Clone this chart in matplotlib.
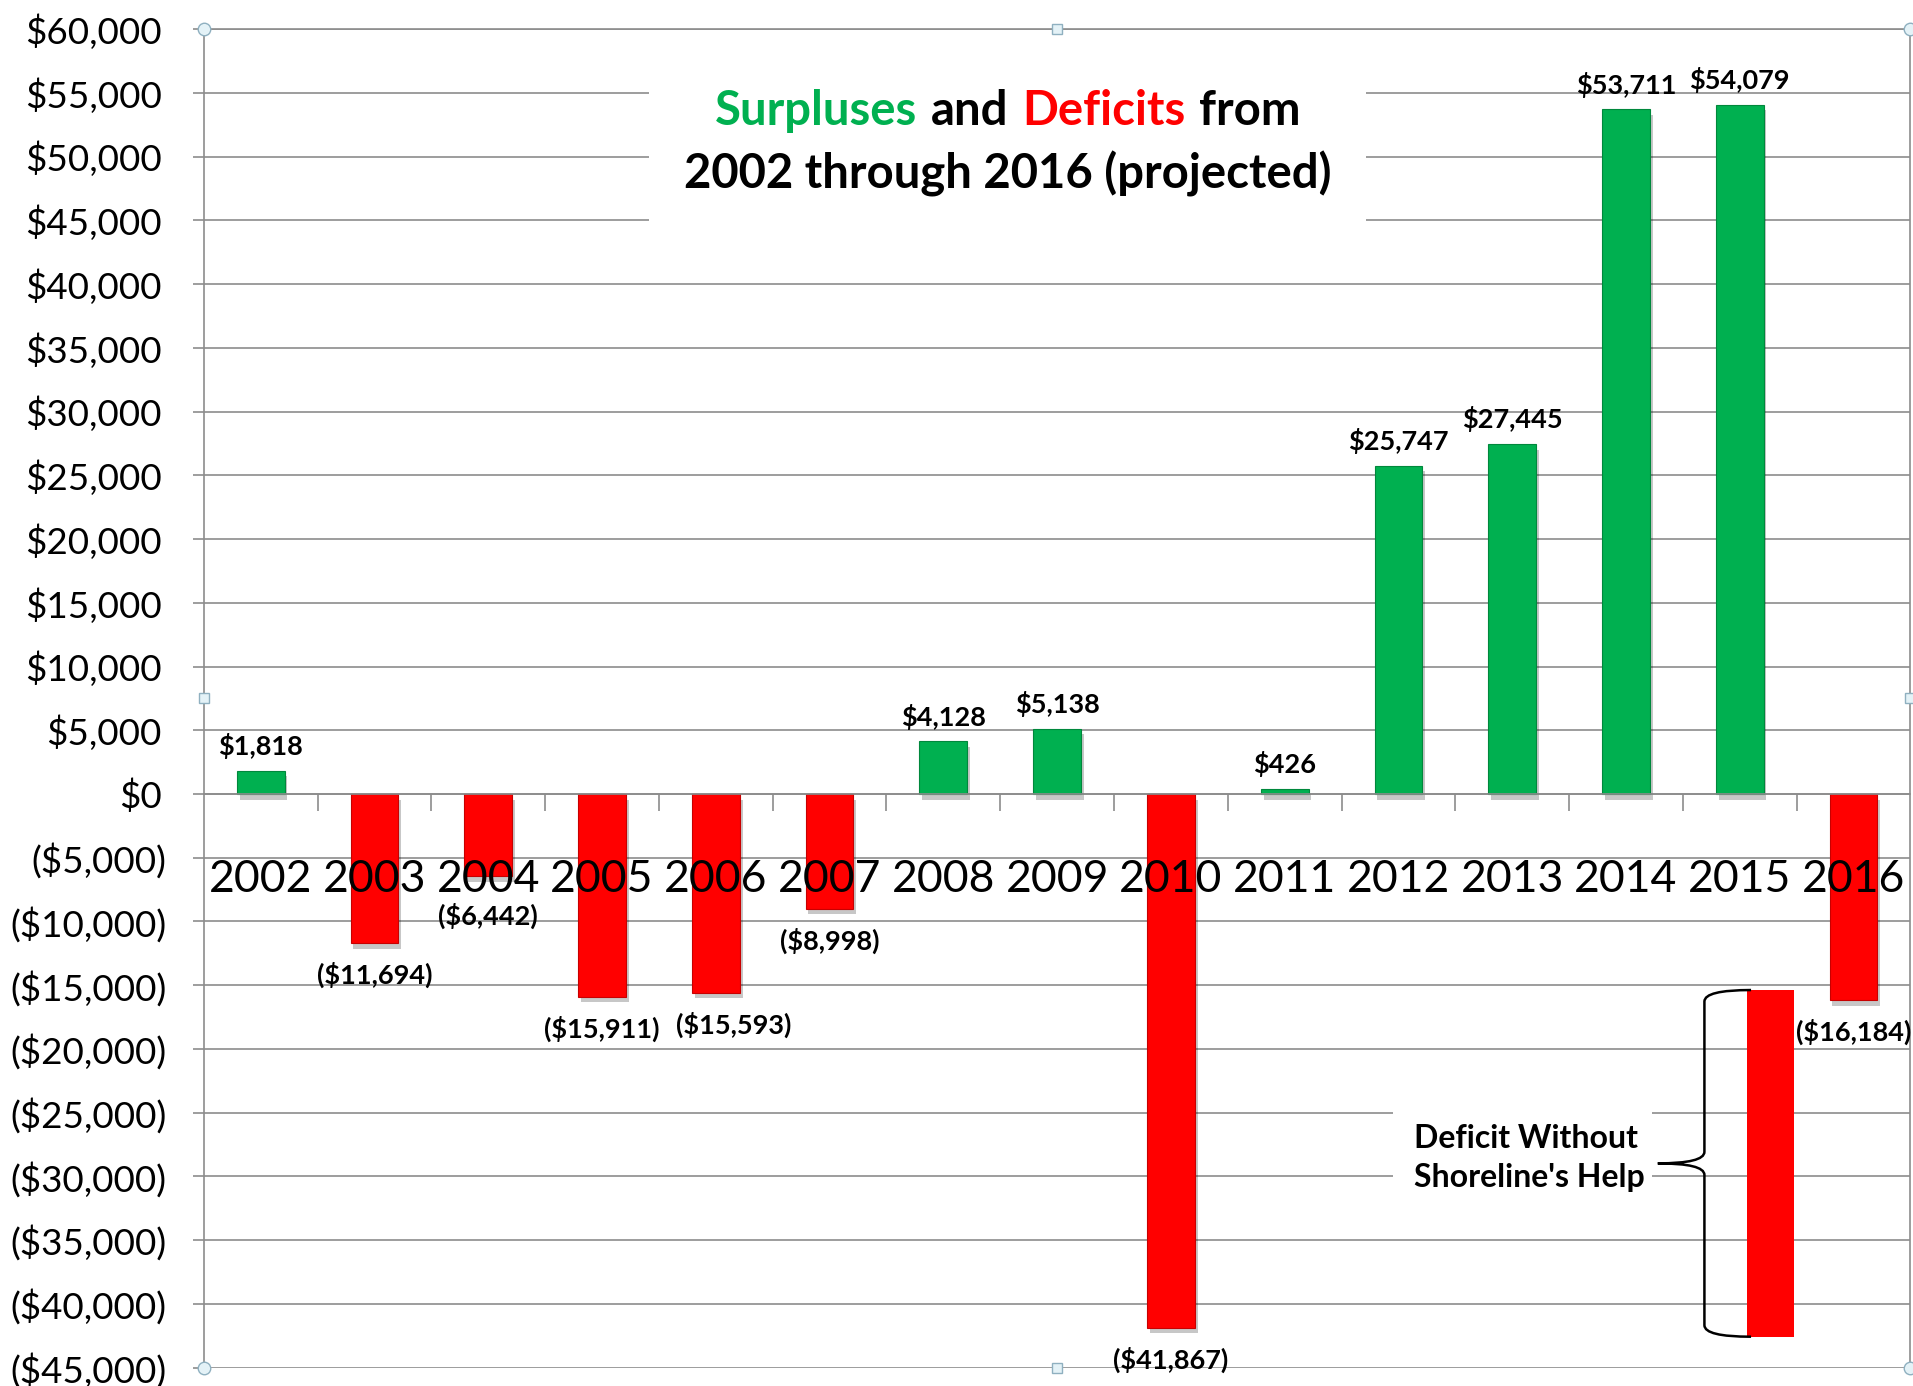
import matplotlib
matplotlib.use("Agg")
import numpy as np
import matplotlib.pyplot as plt
from matplotlib.patches import Rectangle, PathPatch
from matplotlib.path import Path
from matplotlib.offsetbox import TextArea, HPacker, VPacker, AnnotationBbox
import matplotlib.patheffects as pe
from matplotlib.ticker import FuncFormatter
from matplotlib.transforms import ScaledTranslation

plt.rcParams['font.family'] = ['Lato', 'DejaVu Sans']

# ---------------- data ----------------
years = ["2002", "2003", "2004", "2005", "2006", "2007", "2008", "2009",
         "2010", "2011", "2012", "2013", "2014", "2015", "2016"]
values = [1818, -11694, -6442, -15911, -15593, -8998, 4128, 5138,
          -41867, 426, 25747, 27445, 53711, 54079, -16184]
y_ticks = list(range(-45000, 60001, 5000))

title_line1 = [("Surpluses", "#00B050"), ("and", "black"),
               ("Deficits", "#FF0000"), ("from", "black")]
title_line2 = "2002 through 2016 (projected)"
note_text = "Deficit Without\nShoreline's Help"
# illustrative bar: deficit without Shoreline's help (top, bottom values)
note_bar_top = -15380
note_bar_bottom = -42580

GREEN = "#00B050"
RED = "#FF0000"
GRID = "#8C8C8C"


def money(v):
    if v < 0:
        return "(${:,})".format(-int(v))
    return "${:,}".format(int(v))


fig = plt.figure(figsize=(19.13, 13.86), dpi=100)
ax = fig.add_axes([0.1066, 0.0133, 0.8920, 0.9656])

x = np.arange(len(years))
colors = [GREEN if v >= 0 else RED for v in values]
edges = ["#00883C" if v >= 0 else "#C80000" for v in values]
bars = ax.bar(x, values, width=0.42, color=colors, edgecolor=edges,
              linewidth=0.8, zorder=2)
for b in bars:
    b.set_path_effects([pe.SimplePatchShadow(offset=(2, -4), shadow_rgbFace=(0, 0, 0), alpha=0.22),
                        pe.Normal()])

ax.set_xlim(-0.5, len(years) - 0.5)
ax.set_ylim(y_ticks[0], y_ticks[-1])

# data labels (Excel nudged some labels to avoid neighbours)
nudge_x = {"2006": 13}
nudge_y = {"2004": -6}
for i, (xi, v) in enumerate(zip(x, values)):
    dx = nudge_x.get(years[i], 0)
    dy = (8.5 if v >= 0 else -13.5) + nudge_y.get(years[i], 0)
    ax.annotate(money(v), (xi, v), xytext=(dx, dy),
                textcoords="offset points", ha="center",
                va="bottom" if v >= 0 else "top", fontsize=19.5,
                fontweight="bold", zorder=5, annotation_clip=False)

# axes styling
ax.set_axisbelow(True)
for s in ["left", "right", "top", "bottom"]:
    ax.spines[s].set_color(GRID)
    ax.spines[s].set_linewidth(1.2)
ax.spines["bottom"].set_position(("data", 0))

ax.set_yticks(y_ticks)
ax.yaxis.set_major_formatter(FuncFormatter(lambda v, p: money(v)))
ax.tick_params(axis="y", length=8, width=1.2, color=GRID, pad=19,
               labelsize=26.5, direction="out")
ax.yaxis.grid(True, color=GRID, linewidth=1.2)

ax.set_xticks(x)
ax.set_xticklabels(years)
ax.set_xticks(np.arange(0.5, len(years) - 1, 1.0), minor=True)
ax.tick_params(axis="x", which="major", length=0, pad=47, labelsize=32)
ax.tick_params(axis="x", which="minor", length=12, width=1.2, color=GRID,
               direction="out")
ax.xaxis.set_zorder(3)

# accounting alignment: positive labels leave room for the closing parenthesis
shift = ScaledTranslation(-3.5 / 72, 0, fig.dpi_scale_trans)
for tick, tv in zip(ax.yaxis.get_major_ticks(), y_ticks):
    if tv >= 0:
        tick.label1.set_transform(tick.label1.get_transform() + shift)

# title box
ax.add_patch(Rectangle((0.261, 0.840), 0.42, 0.137, transform=ax.transAxes,
                       facecolor="white", edgecolor="none", zorder=1))
tp = dict(fontsize=34, fontweight="bold")
row1 = HPacker(children=[TextArea(t, textprops=dict(color=c, **tp)) for t, c in title_line1],
               align="baseline", pad=0, sep=10)
row2 = TextArea(title_line2, textprops=dict(color="black", **tp))
title_box = VPacker(children=[row1, row2], align="center", pad=0, sep=13)
ab = AnnotationBbox(title_box, (0.471, 0.915), xycoords="axes fraction",
                    frameon=False, box_alignment=(0.5, 0.5), zorder=4)
ax.add_artist(ab)

# annotation: deficit without Shoreline's help
ax.add_patch(Rectangle((9.95, -33000), 12.23 - 9.95, 11000, facecolor="white",
                       edgecolor="none", zorder=1))
ax.text(10.14, -28550, note_text, ha="left", va="center", fontsize=23,
        fontweight="bold", linespacing=1.4, zorder=5)
ax.add_patch(Rectangle((13.06, note_bar_bottom), 0.42, note_bar_top - note_bar_bottom,
                       facecolor=RED, edgecolor="none", zorder=2))

xv, xe, xt = 12.69, 13.10, 12.28
ytop, ybot = note_bar_top, note_bar_bottom
yt = (ytop + ybot) / 2
verts = [(xe, ytop), (xv, ytop), (xv, ytop - 900),
         (xv, yt + 900),
         (xv, yt), (xt, yt),
         (xv, yt), (xv, yt - 900),
         (xv, ybot + 900),
         (xv, ybot), (xe, ybot)]
codes = [Path.MOVETO, Path.CURVE3, Path.CURVE3,
         Path.LINETO,
         Path.CURVE3, Path.CURVE3,
         Path.CURVE3, Path.CURVE3,
         Path.LINETO,
         Path.CURVE3, Path.CURVE3]
ax.add_patch(PathPatch(Path(verts, codes), facecolor="none", edgecolor="black",
                       linewidth=1.8, zorder=4))

# selection handles
ax.plot([0, 1, 0, 1], [0, 0, 1, 1], ls="none", marker="o", ms=9, mfc="#E4F2F7",
        mec="#8FB0C0", mew=1, transform=ax.transAxes, clip_on=False, zorder=6)
ax.plot([0.5, 0, 1, 0.5], [1, 0.5, 0.5, 0], ls="none", marker="s", ms=7, mfc="#E4F2F7",
        mec="#8FB0C0", mew=1, transform=ax.transAxes, clip_on=False, zorder=6)

fig.savefig("out.png", dpi=100, facecolor="white")
